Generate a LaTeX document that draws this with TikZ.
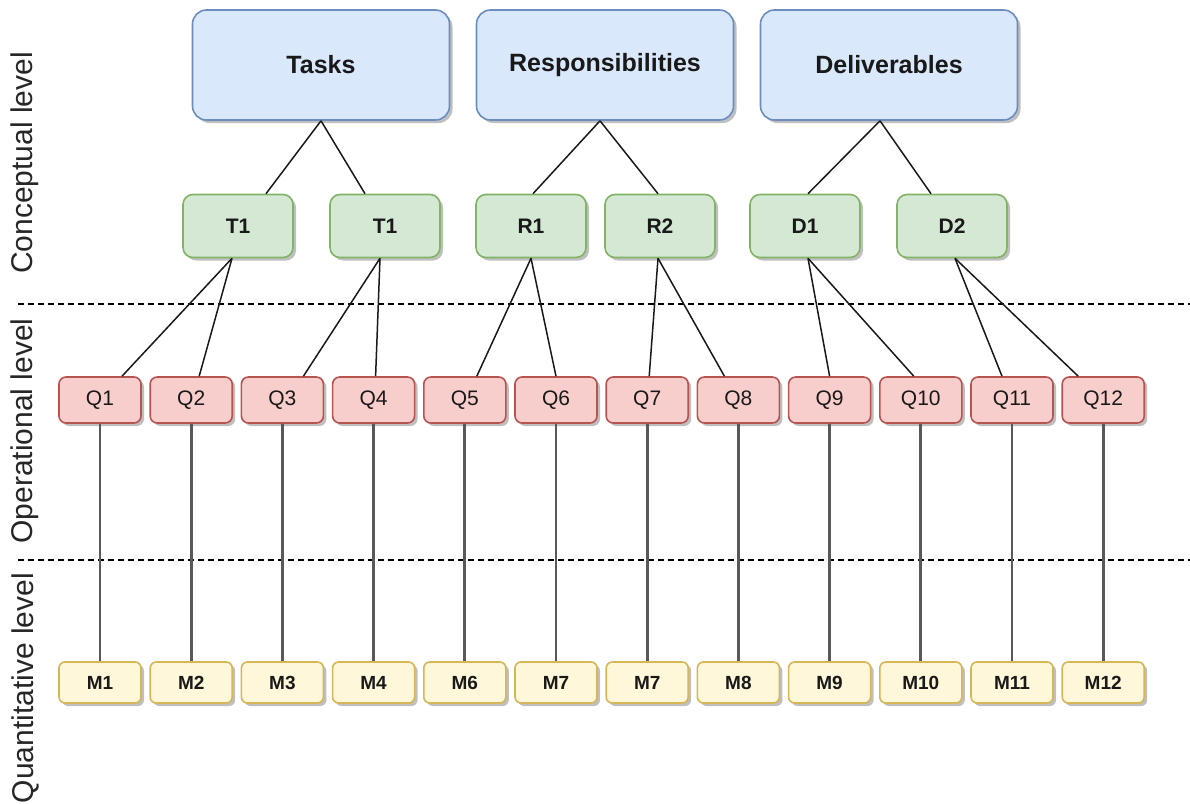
\documentclass[tikz,border=0pt]{standalone}
\usepackage{fontspec}
\setmainfont{Liberation Sans}
\usetikzlibrary{shadows}

\definecolor{blueFill}{HTML}{DAE8FC}
\definecolor{blueLine}{HTML}{6C8EBF}
\definecolor{greenFill}{HTML}{D5E8D4}
\definecolor{greenLine}{HTML}{82B366}
\definecolor{redFill}{HTML}{F8CECC}
\definecolor{redLine}{HTML}{B85450}
\definecolor{yellowFill}{HTML}{FFF7DA}
\definecolor{yellowLine}{HTML}{D6B656}

\tikzset{
  box/.style={draw, rounded corners=#1, line width=1.6pt, inner sep=0pt,
    text=black!90,
    drop shadow={shadow xshift=3pt, shadow yshift=-3pt, opacity=.25, fill=black}},
  topbox/.style={box=14pt, fill=blueFill, draw=blueLine,
    minimum width=257pt, minimum height=110pt,
    font=\fontsize{25}{30}\selectfont\bfseries},
  midbox/.style={box=10pt, fill=greenFill, draw=greenLine,
    minimum width=110pt, minimum height=63pt,
    font=\fontsize{21}{25}\selectfont\bfseries},
  qbox/.style={box=7pt, fill=redFill, draw=redLine,
    minimum width=82pt, minimum height=46pt,
    font=\fontsize{21}{25}\selectfont},
  mbox/.style={box=6pt, fill=yellowFill, draw=yellowLine,
    minimum width=82pt, minimum height=41pt,
    font=\fontsize{19}{23}\selectfont\bfseries},
  level/.style={rotate=90, text=black!85, font=\fontsize{30}{34}\selectfont},
  link/.style={draw=black!90, line width=1.5pt},
  stem/.style={draw=black!65, line width=2.8pt},
  sep/.style={draw=black, line width=1.4pt, dash pattern=on 6pt off 4pt},
}

\begin{document}
\begin{tikzpicture}[x=1pt, y=-1pt]
  \useasboundingbox (0,0) rectangle (1190,803);

  % levels
  \node[level] (lconc) at (25,163) {Conceptual level};
  \node[level] (loper) at (25,431) {Operational level};
  \node[level] (lquan) at (25,688) {Quantitative level};

  \coordinate (s1l) at (18,304);
  \coordinate (s1r) at (1190,304);
  \coordinate (s2l) at (18,560);
  \coordinate (s2r) at (1190,560);
  \draw[sep] (s1l) -- (s1r);
  \draw[sep] (s2l) -- (s2r);

  % conceptual level
  \node[topbox] (tasks) at (321,65) {Tasks};
  \node[topbox] (resp) at (605,65) {Responsibilities};
  \node[topbox] (deliv) at (889,65) {Deliverables};

  \node[midbox] (t1) at (238,226) {T1};
  \node[midbox] (t2) at (385,226) {T1};
  \node[midbox] (r1) at (531,226) {R1};
  \node[midbox] (r2) at (660,226) {R2};
  \node[midbox] (d1) at (805,226) {D1};
  \node[midbox] (d2) at (952,226) {D2};

  % operational + quantitative level
  \foreach \i/\lab in {1/M1,2/M2,3/M3,4/M4,5/M6,6/M7,7/M7,8/M8,9/M9,10/M10,11/M11,12/M12}{
    \pgfmathsetmacro{\x}{100+91.2*(\i-1)}
    \node[qbox] (q\i) at (\x,400) {Q\i};
    \node[mbox] (m\i) at (\x,682.5) {\lab};
  }
  \foreach \i in {1,...,12}
    \draw[stem] (q\i.south) -- (m\i.north);

  \draw[link] (tasks.south) -- ([xshift=28pt]t1.north);
  \draw[link] (tasks.south) -- ([xshift=-20pt]t2.north);
  \draw[link] ([xshift=-5pt]resp.south) -- ([xshift=2pt]r1.north);
  \draw[link] ([xshift=-5pt]resp.south) -- ([xshift=-2pt]r2.north);
  \draw[link] ([xshift=-9pt]deliv.south) -- ([xshift=3pt]d1.north);
  \draw[link] ([xshift=-9pt]deliv.south) -- ([xshift=-21pt]d2.north);

  \draw[link] ([xshift=-6pt]t1.south) -- ([xshift=22pt]q1.north);
  \draw[link] ([xshift=-6pt]t1.south) -- ([xshift=8pt]q2.north);
  \draw[link] ([xshift=-5pt]t2.south) -- ([xshift=21pt]q3.north);
  \draw[link] ([xshift=-5pt]t2.south) -- ([xshift=2pt]q4.north);
  \draw[link] (r1.south) -- ([xshift=12pt]q5.north);
  \draw[link] (r1.south) -- (q6.north);
  \draw[link] ([xshift=-2pt]r2.south) -- ([xshift=2pt]q7.north);
  \draw[link] ([xshift=-2pt]r2.south) -- ([xshift=-14pt]q8.north);
  \draw[link] ([xshift=3pt]d1.south) -- (q9.north);
  \draw[link] ([xshift=3pt]d1.south) -- ([xshift=-7pt]q10.north);
  \draw[link] ([xshift=3pt]d2.south) -- ([xshift=-10pt]q11.north);
  \draw[link] ([xshift=3pt]d2.south) -- ([xshift=-25pt]q12.north);
\end{tikzpicture}
\end{document}
